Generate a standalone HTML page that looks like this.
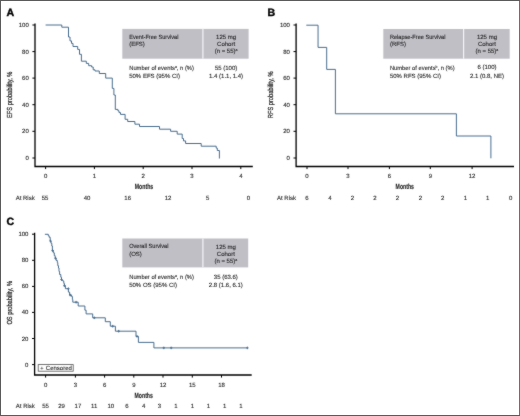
<!DOCTYPE html>
<html><head><meta charset="utf-8"><style>
html,body{margin:0;padding:0;background:#fff;}
body{width:520px;height:416px;overflow:hidden;}
svg{display:block;font-family:"Liberation Sans", sans-serif;text-rendering:geometricPrecision;}
</style></head><body>
<svg width="520" height="416" viewBox="0 0 520 416">
<filter id="soft" x="0" y="0" width="520" height="416" filterUnits="userSpaceOnUse" color-interpolation-filters="sRGB"><feConvolveMatrix order="3" kernelMatrix="1 2 1 2 28 2 1 2 1" edgeMode="duplicate"/></filter>
<g filter="url(#soft)">
<rect x="0" y="0" width="520" height="416" fill="#fff"/>
<text transform="translate(6.6,15.7) rotate(0) scale(1.0,1)" text-anchor="start" font-size="10.6" font-weight="bold" fill="#000" style="stroke:#000;stroke-width:0.4px">A</text>
<path d="M35,23.5 V166.5 H252.8" fill="none" stroke="#000" stroke-width="1.3"/>
<path d="M32.4,25 H35" stroke="#000" stroke-width="1.0"/>
<text transform="translate(28.8,27.05) rotate(0) scale(1.0,1)" text-anchor="end" font-size="6.0" font-weight="normal" fill="#222" style="stroke:#222;stroke-width:0.1px">100</text>
<path d="M32.4,51.6 H35" stroke="#000" stroke-width="1.0"/>
<text transform="translate(28.8,53.65) rotate(0) scale(1.0,1)" text-anchor="end" font-size="6.0" font-weight="normal" fill="#222" style="stroke:#222;stroke-width:0.1px">80</text>
<path d="M32.4,78.1 H35" stroke="#000" stroke-width="1.0"/>
<text transform="translate(28.8,80.14999999999999) rotate(0) scale(1.0,1)" text-anchor="end" font-size="6.0" font-weight="normal" fill="#222" style="stroke:#222;stroke-width:0.1px">60</text>
<path d="M32.4,104.7 H35" stroke="#000" stroke-width="1.0"/>
<text transform="translate(28.8,106.75) rotate(0) scale(1.0,1)" text-anchor="end" font-size="6.0" font-weight="normal" fill="#222" style="stroke:#222;stroke-width:0.1px">40</text>
<path d="M32.4,131.3 H35" stroke="#000" stroke-width="1.0"/>
<text transform="translate(28.8,133.35000000000002) rotate(0) scale(1.0,1)" text-anchor="end" font-size="6.0" font-weight="normal" fill="#222" style="stroke:#222;stroke-width:0.1px">20</text>
<path d="M32.4,158 H35" stroke="#000" stroke-width="1.0"/>
<text transform="translate(28.8,160.05) rotate(0) scale(1.0,1)" text-anchor="end" font-size="6.0" font-weight="normal" fill="#222" style="stroke:#222;stroke-width:0.1px">0</text>
<path d="M45.6,166.5 V169.1" stroke="#000" stroke-width="1.0"/>
<text transform="translate(45.6,178.1) rotate(0) scale(1.0,1)" text-anchor="middle" font-size="6.0" font-weight="normal" fill="#222" style="stroke:#222;stroke-width:0.1px">0</text>
<path d="M94.4,166.5 V169.1" stroke="#000" stroke-width="1.0"/>
<text transform="translate(94.4,178.1) rotate(0) scale(1.0,1)" text-anchor="middle" font-size="6.0" font-weight="normal" fill="#222" style="stroke:#222;stroke-width:0.1px">1</text>
<path d="M143.2,166.5 V169.1" stroke="#000" stroke-width="1.0"/>
<text transform="translate(143.2,178.1) rotate(0) scale(1.0,1)" text-anchor="middle" font-size="6.0" font-weight="normal" fill="#222" style="stroke:#222;stroke-width:0.1px">2</text>
<path d="M192,166.5 V169.1" stroke="#000" stroke-width="1.0"/>
<text transform="translate(192,178.1) rotate(0) scale(1.0,1)" text-anchor="middle" font-size="6.0" font-weight="normal" fill="#222" style="stroke:#222;stroke-width:0.1px">3</text>
<path d="M240.8,166.5 V169.1" stroke="#000" stroke-width="1.0"/>
<text transform="translate(240.8,178.1) rotate(0) scale(1.0,1)" text-anchor="middle" font-size="6.0" font-weight="normal" fill="#222" style="stroke:#222;stroke-width:0.1px">4</text>
<text transform="translate(144,189.3) rotate(0) scale(0.68,1)" text-anchor="middle" font-size="7.6" font-weight="bold" fill="#222" style="stroke:#222;stroke-width:0.12px">Months</text>
<text transform="translate(15.7,199.5) rotate(0) scale(1.0,1)" text-anchor="start" font-size="6.0" font-weight="normal" fill="#222" style="stroke:#222;stroke-width:0.1px">At Risk</text>
<text transform="translate(45,199.5) rotate(0) scale(1.0,1)" text-anchor="middle" font-size="6.0" font-weight="normal" fill="#222" style="stroke:#222;stroke-width:0.1px">55</text>
<text transform="translate(87,199.5) rotate(0) scale(1.0,1)" text-anchor="middle" font-size="6.0" font-weight="normal" fill="#222" style="stroke:#222;stroke-width:0.1px">40</text>
<text transform="translate(127.7,199.5) rotate(0) scale(1.0,1)" text-anchor="middle" font-size="6.0" font-weight="normal" fill="#222" style="stroke:#222;stroke-width:0.1px">16</text>
<text transform="translate(168,199.5) rotate(0) scale(1.0,1)" text-anchor="middle" font-size="6.0" font-weight="normal" fill="#222" style="stroke:#222;stroke-width:0.1px">12</text>
<text transform="translate(207.7,199.5) rotate(0) scale(1.0,1)" text-anchor="middle" font-size="6.0" font-weight="normal" fill="#222" style="stroke:#222;stroke-width:0.1px">5</text>
<text transform="translate(248.5,199.5) rotate(0) scale(1.0,1)" text-anchor="middle" font-size="6.0" font-weight="normal" fill="#222" style="stroke:#222;stroke-width:0.1px">0</text>
<text transform="translate(12.3,94.8) rotate(-90) scale(0.78,1)" text-anchor="middle" font-size="7.3" fill="#222" style="stroke:#222;stroke-width:0.22px">EFS probability, %</text>
<rect x="122.3" y="28.9" width="126.30" height="29.80" fill="#c0bfc6"/>
<rect x="202.3" y="28.9" width="1.2" height="29.80" fill="#f4f4f8"/>
<text transform="translate(129.2,39.1) rotate(0) scale(0.935,1)" text-anchor="start" font-size="6.0" font-weight="normal" fill="#222" style="stroke:#222;stroke-width:0.1px">Event-Free Survival</text>
<text transform="translate(129.2,46.3) rotate(0) scale(1.0,1)" text-anchor="start" font-size="6.0" font-weight="normal" fill="#222" style="stroke:#222;stroke-width:0.1px">(EFS)</text>
<text transform="translate(226.05,39.3) rotate(0) scale(1.0,1)" text-anchor="middle" font-size="6.0" font-weight="normal" fill="#222" style="stroke:#222;stroke-width:0.1px">125 mg</text>
<text transform="translate(226.05,46.400000000000006) rotate(0) scale(1.0,1)" text-anchor="middle" font-size="6.0" font-weight="normal" fill="#222" style="stroke:#222;stroke-width:0.1px">Cohort</text>
<text transform="translate(226.05,53.400000000000006) rotate(0) scale(1.0,1)" text-anchor="middle" font-size="6.0" font-weight="normal" fill="#222" style="stroke:#222;stroke-width:0.1px">(n = 55)<tspan font-size="3.6" dy="-2">a</tspan></text>
<text transform="translate(129.2,69.8) rotate(0) scale(0.965,1)" text-anchor="start" font-size="6.0" font-weight="normal" fill="#222" style="stroke:#222;stroke-width:0.1px">Number of events<tspan font-size="3.6" dy="-2">a</tspan><tspan dy="2">, n (%)</tspan></text>
<text transform="translate(129.2,77.8) rotate(0) scale(1.0,1)" text-anchor="start" font-size="6.0" font-weight="normal" fill="#222" style="stroke:#222;stroke-width:0.1px">50% EFS (95% CI)</text>
<text transform="translate(226.05,69.5) rotate(0) scale(1.0,1)" text-anchor="middle" font-size="6.0" font-weight="normal" fill="#222" style="stroke:#222;stroke-width:0.1px">55 (100)</text>
<text transform="translate(226.05,77.8) rotate(0) scale(1.0,1)" text-anchor="middle" font-size="6.0" font-weight="normal" fill="#222" style="stroke:#222;stroke-width:0.1px">1.4 (1.1, 1.4)</text>
<path d="M45.6,25 H61.8 V27.2 H68.5 V37 H70 V40.9 H71.5 V43.4 H73 V46.5 H77.7 V49.4 H79.5 V54.3 H81.4 V61.2 H86.3 V63.4 H88.7 V65.7 H91.6 V67 H93.2 V69.8 H95 V71 H99.3 V73.5 H105.7 V78.1 H112.3 V88.4 H113.9 V95 H115.3 V109.4 H117.9 V110.8 H119 V112.6 H120.5 V114.4 H125.1 V119.3 H127.7 V121.5 H134.9 V124.2 H139.5 V126.5 H159.5 V129.2 H170.6 V131.3 H177.2 V134.1 H182.2 V138.5 H183.5 V140.9 H185.6 V143.5 H201.2 V146.2 H216.2 V148.1 H217.3 V150.5 H219.4 V158.5" fill="none" stroke="#466b8c" stroke-width="0.98" stroke-linejoin="miter" stroke-linecap="butt"/>
<text transform="translate(267.6,15.9) rotate(0) scale(1.0,1)" text-anchor="start" font-size="10.6" font-weight="bold" fill="#000" style="stroke:#000;stroke-width:0.4px">B</text>
<path d="M296.1,23.5 V166.5 H514" fill="none" stroke="#000" stroke-width="1.3"/>
<path d="M293.5,25 H296.1" stroke="#000" stroke-width="1.0"/>
<text transform="translate(289.90000000000003,27.05) rotate(0) scale(1.0,1)" text-anchor="end" font-size="6.0" font-weight="normal" fill="#222" style="stroke:#222;stroke-width:0.1px">100</text>
<path d="M293.5,51.6 H296.1" stroke="#000" stroke-width="1.0"/>
<text transform="translate(289.90000000000003,53.65) rotate(0) scale(1.0,1)" text-anchor="end" font-size="6.0" font-weight="normal" fill="#222" style="stroke:#222;stroke-width:0.1px">80</text>
<path d="M293.5,78.1 H296.1" stroke="#000" stroke-width="1.0"/>
<text transform="translate(289.90000000000003,80.14999999999999) rotate(0) scale(1.0,1)" text-anchor="end" font-size="6.0" font-weight="normal" fill="#222" style="stroke:#222;stroke-width:0.1px">60</text>
<path d="M293.5,104.7 H296.1" stroke="#000" stroke-width="1.0"/>
<text transform="translate(289.90000000000003,106.75) rotate(0) scale(1.0,1)" text-anchor="end" font-size="6.0" font-weight="normal" fill="#222" style="stroke:#222;stroke-width:0.1px">40</text>
<path d="M293.5,131.3 H296.1" stroke="#000" stroke-width="1.0"/>
<text transform="translate(289.90000000000003,133.35000000000002) rotate(0) scale(1.0,1)" text-anchor="end" font-size="6.0" font-weight="normal" fill="#222" style="stroke:#222;stroke-width:0.1px">20</text>
<path d="M293.5,158 H296.1" stroke="#000" stroke-width="1.0"/>
<text transform="translate(289.90000000000003,160.05) rotate(0) scale(1.0,1)" text-anchor="end" font-size="6.0" font-weight="normal" fill="#222" style="stroke:#222;stroke-width:0.1px">0</text>
<path d="M307,166.5 V169.1" stroke="#000" stroke-width="1.0"/>
<text transform="translate(307,178.1) rotate(0) scale(1.0,1)" text-anchor="middle" font-size="6.0" font-weight="normal" fill="#222" style="stroke:#222;stroke-width:0.1px">0</text>
<path d="M348,166.5 V169.1" stroke="#000" stroke-width="1.0"/>
<text transform="translate(348,178.1) rotate(0) scale(1.0,1)" text-anchor="middle" font-size="6.0" font-weight="normal" fill="#222" style="stroke:#222;stroke-width:0.1px">3</text>
<path d="M389.4,166.5 V169.1" stroke="#000" stroke-width="1.0"/>
<text transform="translate(389.4,178.1) rotate(0) scale(1.0,1)" text-anchor="middle" font-size="6.0" font-weight="normal" fill="#222" style="stroke:#222;stroke-width:0.1px">6</text>
<path d="M430.3,166.5 V169.1" stroke="#000" stroke-width="1.0"/>
<text transform="translate(430.3,178.1) rotate(0) scale(1.0,1)" text-anchor="middle" font-size="6.0" font-weight="normal" fill="#222" style="stroke:#222;stroke-width:0.1px">9</text>
<path d="M472.1,166.5 V169.1" stroke="#000" stroke-width="1.0"/>
<text transform="translate(472.1,178.1) rotate(0) scale(1.0,1)" text-anchor="middle" font-size="6.0" font-weight="normal" fill="#222" style="stroke:#222;stroke-width:0.1px">12</text>
<text transform="translate(404.8,189.3) rotate(0) scale(0.68,1)" text-anchor="middle" font-size="7.6" font-weight="bold" fill="#222" style="stroke:#222;stroke-width:0.12px">Months</text>
<text transform="translate(277,199.6) rotate(0) scale(1.0,1)" text-anchor="start" font-size="6.0" font-weight="normal" fill="#222" style="stroke:#222;stroke-width:0.1px">At Risk</text>
<text transform="translate(307,199.6) rotate(0) scale(1.0,1)" text-anchor="middle" font-size="6.0" font-weight="normal" fill="#222" style="stroke:#222;stroke-width:0.1px">6</text>
<text transform="translate(330,199.6) rotate(0) scale(1.0,1)" text-anchor="middle" font-size="6.0" font-weight="normal" fill="#222" style="stroke:#222;stroke-width:0.1px">4</text>
<text transform="translate(352.5,199.6) rotate(0) scale(1.0,1)" text-anchor="middle" font-size="6.0" font-weight="normal" fill="#222" style="stroke:#222;stroke-width:0.1px">2</text>
<text transform="translate(375,199.6) rotate(0) scale(1.0,1)" text-anchor="middle" font-size="6.0" font-weight="normal" fill="#222" style="stroke:#222;stroke-width:0.1px">2</text>
<text transform="translate(397.5,199.6) rotate(0) scale(1.0,1)" text-anchor="middle" font-size="6.0" font-weight="normal" fill="#222" style="stroke:#222;stroke-width:0.1px">2</text>
<text transform="translate(420.4,199.6) rotate(0) scale(1.0,1)" text-anchor="middle" font-size="6.0" font-weight="normal" fill="#222" style="stroke:#222;stroke-width:0.1px">2</text>
<text transform="translate(442.7,199.6) rotate(0) scale(1.0,1)" text-anchor="middle" font-size="6.0" font-weight="normal" fill="#222" style="stroke:#222;stroke-width:0.1px">2</text>
<text transform="translate(465.4,199.6) rotate(0) scale(1.0,1)" text-anchor="middle" font-size="6.0" font-weight="normal" fill="#222" style="stroke:#222;stroke-width:0.1px">1</text>
<text transform="translate(487.7,199.6) rotate(0) scale(1.0,1)" text-anchor="middle" font-size="6.0" font-weight="normal" fill="#222" style="stroke:#222;stroke-width:0.1px">1</text>
<text transform="translate(510.6,199.6) rotate(0) scale(1.0,1)" text-anchor="middle" font-size="6.0" font-weight="normal" fill="#222" style="stroke:#222;stroke-width:0.1px">0</text>
<text transform="translate(273.2,94.8) rotate(-90) scale(0.78,1)" text-anchor="middle" font-size="7.3" fill="#222" style="stroke:#222;stroke-width:0.22px">RFS probability, %</text>
<rect x="383.3" y="29.0" width="126.40" height="29.70" fill="#c0bfc6"/>
<rect x="463.0" y="29.0" width="1.2" height="29.70" fill="#f4f4f8"/>
<text transform="translate(389.9,39.0) rotate(0) scale(0.935,1)" text-anchor="start" font-size="6.0" font-weight="normal" fill="#222" style="stroke:#222;stroke-width:0.1px">Relapse-Free Survival</text>
<text transform="translate(389.9,46.2) rotate(0) scale(1.0,1)" text-anchor="start" font-size="6.0" font-weight="normal" fill="#222" style="stroke:#222;stroke-width:0.1px">(RFS)</text>
<text transform="translate(486.95,39.2) rotate(0) scale(1.0,1)" text-anchor="middle" font-size="6.0" font-weight="normal" fill="#222" style="stroke:#222;stroke-width:0.1px">125 mg</text>
<text transform="translate(486.95,46.3) rotate(0) scale(1.0,1)" text-anchor="middle" font-size="6.0" font-weight="normal" fill="#222" style="stroke:#222;stroke-width:0.1px">Cohort</text>
<text transform="translate(486.95,53.3) rotate(0) scale(1.0,1)" text-anchor="middle" font-size="6.0" font-weight="normal" fill="#222" style="stroke:#222;stroke-width:0.1px">(n = 55)<tspan font-size="3.6" dy="-2">a</tspan></text>
<text transform="translate(389.9,69.7) rotate(0) scale(0.965,1)" text-anchor="start" font-size="6.0" font-weight="normal" fill="#222" style="stroke:#222;stroke-width:0.1px">Number of events<tspan font-size="3.6" dy="-2">b</tspan><tspan dy="2">, n (%)</tspan></text>
<text transform="translate(389.9,77.7) rotate(0) scale(1.0,1)" text-anchor="start" font-size="6.0" font-weight="normal" fill="#222" style="stroke:#222;stroke-width:0.1px">50% RFS (95% CI)</text>
<text transform="translate(486.95,69.4) rotate(0) scale(1.0,1)" text-anchor="middle" font-size="6.0" font-weight="normal" fill="#222" style="stroke:#222;stroke-width:0.1px">6 (100)</text>
<text transform="translate(486.95,77.7) rotate(0) scale(1.0,1)" text-anchor="middle" font-size="6.0" font-weight="normal" fill="#222" style="stroke:#222;stroke-width:0.1px">2.1 (0.8, NE)</text>
<path d="M306.3,25.2 H318.05 V47.4 H326.7 V69.4 H335.4 V113.8 H456.4 V136 H490.9 V158.3" fill="none" stroke="#466b8c" stroke-width="0.98" stroke-linejoin="miter" stroke-linecap="butt"/>
<text transform="translate(6.4,224.7) rotate(0) scale(1.0,1)" text-anchor="start" font-size="10.6" font-weight="bold" fill="#000" style="stroke:#000;stroke-width:0.4px">C</text>
<path d="M34.6,232.7 V375 H251.7" fill="none" stroke="#000" stroke-width="1.3"/>
<path d="M32.0,234.2 H34.6" stroke="#000" stroke-width="1.0"/>
<text transform="translate(28.400000000000002,236.25) rotate(0) scale(1.0,1)" text-anchor="end" font-size="6.0" font-weight="normal" fill="#222" style="stroke:#222;stroke-width:0.1px">100</text>
<path d="M32.0,260.3 H34.6" stroke="#000" stroke-width="1.0"/>
<text transform="translate(28.400000000000002,262.35) rotate(0) scale(1.0,1)" text-anchor="end" font-size="6.0" font-weight="normal" fill="#222" style="stroke:#222;stroke-width:0.1px">80</text>
<path d="M32.0,286.4 H34.6" stroke="#000" stroke-width="1.0"/>
<text transform="translate(28.400000000000002,288.45) rotate(0) scale(1.0,1)" text-anchor="end" font-size="6.0" font-weight="normal" fill="#222" style="stroke:#222;stroke-width:0.1px">60</text>
<path d="M32.0,312.4 H34.6" stroke="#000" stroke-width="1.0"/>
<text transform="translate(28.400000000000002,314.45) rotate(0) scale(1.0,1)" text-anchor="end" font-size="6.0" font-weight="normal" fill="#222" style="stroke:#222;stroke-width:0.1px">40</text>
<path d="M32.0,338.5 H34.6" stroke="#000" stroke-width="1.0"/>
<text transform="translate(28.400000000000002,340.55) rotate(0) scale(1.0,1)" text-anchor="end" font-size="6.0" font-weight="normal" fill="#222" style="stroke:#222;stroke-width:0.1px">20</text>
<path d="M32.0,364.6 H34.6" stroke="#000" stroke-width="1.0"/>
<text transform="translate(28.400000000000002,366.65000000000003) rotate(0) scale(1.0,1)" text-anchor="end" font-size="6.0" font-weight="normal" fill="#222" style="stroke:#222;stroke-width:0.1px">0</text>
<path d="M45.6,375 V377.6" stroke="#000" stroke-width="1.0"/>
<text transform="translate(45.6,386.6) rotate(0) scale(1.0,1)" text-anchor="middle" font-size="6.0" font-weight="normal" fill="#222" style="stroke:#222;stroke-width:0.1px">0</text>
<path d="M75.4,375 V377.6" stroke="#000" stroke-width="1.0"/>
<text transform="translate(75.4,386.6) rotate(0) scale(1.0,1)" text-anchor="middle" font-size="6.0" font-weight="normal" fill="#222" style="stroke:#222;stroke-width:0.1px">3</text>
<path d="M104.6,375 V377.6" stroke="#000" stroke-width="1.0"/>
<text transform="translate(104.6,386.6) rotate(0) scale(1.0,1)" text-anchor="middle" font-size="6.0" font-weight="normal" fill="#222" style="stroke:#222;stroke-width:0.1px">6</text>
<path d="M133.8,375 V377.6" stroke="#000" stroke-width="1.0"/>
<text transform="translate(133.8,386.6) rotate(0) scale(1.0,1)" text-anchor="middle" font-size="6.0" font-weight="normal" fill="#222" style="stroke:#222;stroke-width:0.1px">9</text>
<path d="M163,375 V377.6" stroke="#000" stroke-width="1.0"/>
<text transform="translate(163,386.6) rotate(0) scale(1.0,1)" text-anchor="middle" font-size="6.0" font-weight="normal" fill="#222" style="stroke:#222;stroke-width:0.1px">12</text>
<path d="M192.3,375 V377.6" stroke="#000" stroke-width="1.0"/>
<text transform="translate(192.3,386.6) rotate(0) scale(1.0,1)" text-anchor="middle" font-size="6.0" font-weight="normal" fill="#222" style="stroke:#222;stroke-width:0.1px">15</text>
<path d="M221.5,375 V377.6" stroke="#000" stroke-width="1.0"/>
<text transform="translate(221.5,386.6) rotate(0) scale(1.0,1)" text-anchor="middle" font-size="6.0" font-weight="normal" fill="#222" style="stroke:#222;stroke-width:0.1px">18</text>
<text transform="translate(143.7,397.8) rotate(0) scale(0.68,1)" text-anchor="middle" font-size="7.6" font-weight="bold" fill="#222" style="stroke:#222;stroke-width:0.12px">Months</text>
<text transform="translate(15.8,408.3) rotate(0) scale(1.0,1)" text-anchor="start" font-size="6.0" font-weight="normal" fill="#222" style="stroke:#222;stroke-width:0.1px">At Risk</text>
<text transform="translate(45.6,408.3) rotate(0) scale(1.0,1)" text-anchor="middle" font-size="6.0" font-weight="normal" fill="#222" style="stroke:#222;stroke-width:0.1px">55</text>
<text transform="translate(61.5,408.3) rotate(0) scale(1.0,1)" text-anchor="middle" font-size="6.0" font-weight="normal" fill="#222" style="stroke:#222;stroke-width:0.1px">29</text>
<text transform="translate(77.9,408.3) rotate(0) scale(1.0,1)" text-anchor="middle" font-size="6.0" font-weight="normal" fill="#222" style="stroke:#222;stroke-width:0.1px">17</text>
<text transform="translate(94.2,408.3) rotate(0) scale(1.0,1)" text-anchor="middle" font-size="6.0" font-weight="normal" fill="#222" style="stroke:#222;stroke-width:0.1px">11</text>
<text transform="translate(110.8,408.3) rotate(0) scale(1.0,1)" text-anchor="middle" font-size="6.0" font-weight="normal" fill="#222" style="stroke:#222;stroke-width:0.1px">10</text>
<text transform="translate(127,408.3) rotate(0) scale(1.0,1)" text-anchor="middle" font-size="6.0" font-weight="normal" fill="#222" style="stroke:#222;stroke-width:0.1px">6</text>
<text transform="translate(143.7,408.3) rotate(0) scale(1.0,1)" text-anchor="middle" font-size="6.0" font-weight="normal" fill="#222" style="stroke:#222;stroke-width:0.1px">4</text>
<text transform="translate(159.4,408.3) rotate(0) scale(1.0,1)" text-anchor="middle" font-size="6.0" font-weight="normal" fill="#222" style="stroke:#222;stroke-width:0.1px">3</text>
<text transform="translate(176,408.3) rotate(0) scale(1.0,1)" text-anchor="middle" font-size="6.0" font-weight="normal" fill="#222" style="stroke:#222;stroke-width:0.1px">1</text>
<text transform="translate(192.3,408.3) rotate(0) scale(1.0,1)" text-anchor="middle" font-size="6.0" font-weight="normal" fill="#222" style="stroke:#222;stroke-width:0.1px">1</text>
<text transform="translate(208.3,408.3) rotate(0) scale(1.0,1)" text-anchor="middle" font-size="6.0" font-weight="normal" fill="#222" style="stroke:#222;stroke-width:0.1px">1</text>
<text transform="translate(224.6,408.3) rotate(0) scale(1.0,1)" text-anchor="middle" font-size="6.0" font-weight="normal" fill="#222" style="stroke:#222;stroke-width:0.1px">1</text>
<text transform="translate(240.9,408.3) rotate(0) scale(1.0,1)" text-anchor="middle" font-size="6.0" font-weight="normal" fill="#222" style="stroke:#222;stroke-width:0.1px">1</text>
<text transform="translate(12.4,302.8) rotate(-90) scale(0.78,1)" text-anchor="middle" font-size="7.3" fill="#222" style="stroke:#222;stroke-width:0.22px">OS probability, %</text>
<rect x="122.3" y="238.5" width="125.90" height="28.90" fill="#c0bfc6"/>
<rect x="202.3" y="238.5" width="1.2" height="28.90" fill="#f4f4f8"/>
<text transform="translate(129.2,248.3) rotate(0) scale(0.935,1)" text-anchor="start" font-size="6.0" font-weight="normal" fill="#222" style="stroke:#222;stroke-width:0.1px">Overall Survival</text>
<text transform="translate(129.2,255.5) rotate(0) scale(1.0,1)" text-anchor="start" font-size="6.0" font-weight="normal" fill="#222" style="stroke:#222;stroke-width:0.1px">(OS)</text>
<text transform="translate(225.85,248.5) rotate(0) scale(1.0,1)" text-anchor="middle" font-size="6.0" font-weight="normal" fill="#222" style="stroke:#222;stroke-width:0.1px">125 mg</text>
<text transform="translate(225.85,255.6) rotate(0) scale(1.0,1)" text-anchor="middle" font-size="6.0" font-weight="normal" fill="#222" style="stroke:#222;stroke-width:0.1px">Cohort</text>
<text transform="translate(225.85,262.6) rotate(0) scale(1.0,1)" text-anchor="middle" font-size="6.0" font-weight="normal" fill="#222" style="stroke:#222;stroke-width:0.1px">(n = 55)<tspan font-size="3.6" dy="-2">a</tspan></text>
<text transform="translate(129.2,279.0) rotate(0) scale(0.965,1)" text-anchor="start" font-size="6.0" font-weight="normal" fill="#222" style="stroke:#222;stroke-width:0.1px">Number of events<tspan font-size="3.6" dy="-2">a</tspan><tspan dy="2">, n (%)</tspan></text>
<text transform="translate(129.2,287.0) rotate(0) scale(1.0,1)" text-anchor="start" font-size="6.0" font-weight="normal" fill="#222" style="stroke:#222;stroke-width:0.1px">50% OS (95% CI)</text>
<text transform="translate(225.85,278.7) rotate(0) scale(1.0,1)" text-anchor="middle" font-size="6.0" font-weight="normal" fill="#222" style="stroke:#222;stroke-width:0.1px">35 (63.6)</text>
<text transform="translate(225.85,287.0) rotate(0) scale(1.0,1)" text-anchor="middle" font-size="6.0" font-weight="normal" fill="#222" style="stroke:#222;stroke-width:0.1px">2.8 (1.6, 6.1)</text>
<path d="M44.9,234.3 H48.3 V235.8 H49.2 V237.3 H50.2 V241 H51 V243.3 H51.8 V246 H52.4 V250.5 H53.3 V252.8 H54.3 V255.7 H55.2 V258.3 H56.2 V260.5 H57.3 V262.6 H57.8 V265.7 H58.5 V268 H59 V271.5 H59.6 V274.5 H60.8 V277.2 H61.5 V280.3 H63 V281.2 H63.8 V283.4 H64.4 V285.7 H65.4 V288.7 H68.4 V292.1 H69.6 V295.1 H71.6 V296.5 H72.4 V299.5 H72.8 V302.2 H78.2 V306 H84.9 V310.2 H86.1 V313.9 H92.7 V317.8 H105.3 V321.7 H110.3 V326.2 H115.4 V331.2 H136 V336.4 H138.4 V342.4 H153.9 V347.9 H247.4" fill="none" stroke="#466b8c" stroke-width="0.98" stroke-linejoin="miter" stroke-linecap="butt"/>
<path d="M50.5,239.7 V242.3 M49.3,241 H51.7" stroke="#466b8c" stroke-width="0.9"/>
<path d="M52.6,249.29999999999998 V251.9 M51.4,250.6 H53.800000000000004" stroke="#466b8c" stroke-width="0.9"/>
<path d="M55.5,257.0 V259.6 M54.3,258.3 H56.7" stroke="#466b8c" stroke-width="0.9"/>
<path d="M61.5,278.2 V280.8 M60.3,279.5 H62.7" stroke="#466b8c" stroke-width="0.9"/>
<path d="M64.4,284.4 V287.0 M63.2,285.7 H65.60000000000001" stroke="#466b8c" stroke-width="0.9"/>
<path d="M68.4,287.4 V290.0 M67.2,288.7 H69.60000000000001" stroke="#466b8c" stroke-width="0.9"/>
<path d="M70.3,293.8 V296.40000000000003 M69.1,295.1 H71.5" stroke="#466b8c" stroke-width="0.9"/>
<path d="M76.1,300.9 V303.5 M74.89999999999999,302.2 H77.3" stroke="#466b8c" stroke-width="0.9"/>
<path d="M94.3,316.5 V319.1 M93.1,317.8 H95.5" stroke="#466b8c" stroke-width="0.9"/>
<path d="M112.7,324.9 V327.5 M111.5,326.2 H113.9" stroke="#466b8c" stroke-width="0.9"/>
<path d="M118.7,329.9 V332.5 M117.5,331.2 H119.9" stroke="#466b8c" stroke-width="0.9"/>
<path d="M137,335.09999999999997 V337.7 M135.8,336.4 H138.2" stroke="#466b8c" stroke-width="0.9"/>
<path d="M163.8,346.59999999999997 V349.2 M162.60000000000002,347.9 H165.0" stroke="#466b8c" stroke-width="0.9"/>
<path d="M171.2,346.59999999999997 V349.2 M170.0,347.9 H172.39999999999998" stroke="#466b8c" stroke-width="0.9"/>
<path d="M247.4,346.59999999999997 V349.2 M246.20000000000002,347.9 H248.6" stroke="#466b8c" stroke-width="0.9"/>
<rect x="38.2" y="364.6" width="35" height="6.6" fill="#fff" stroke="#555" stroke-width="0.8"/>
<text transform="translate(40.2,369.9) rotate(0) scale(1.0,1)" text-anchor="start" font-size="5.6" font-weight="normal" fill="#222" style="stroke:#222;stroke-width:0.1px">+</text>
<text transform="translate(45.8,369.9) rotate(0) scale(1.0,1)" text-anchor="start" font-size="6.0" font-weight="normal" fill="#222" style="stroke:#222;stroke-width:0.1px">Censored</text>
</g>
<path d="M0,0.5 H520 M0.5,0 V416 M0,415.5 H520" stroke="#5a5a5a" stroke-width="1" fill="none"/><path d="M519.5,1 V415" stroke="#6e6e6e" stroke-width="1"/>
</svg>
</body></html>
